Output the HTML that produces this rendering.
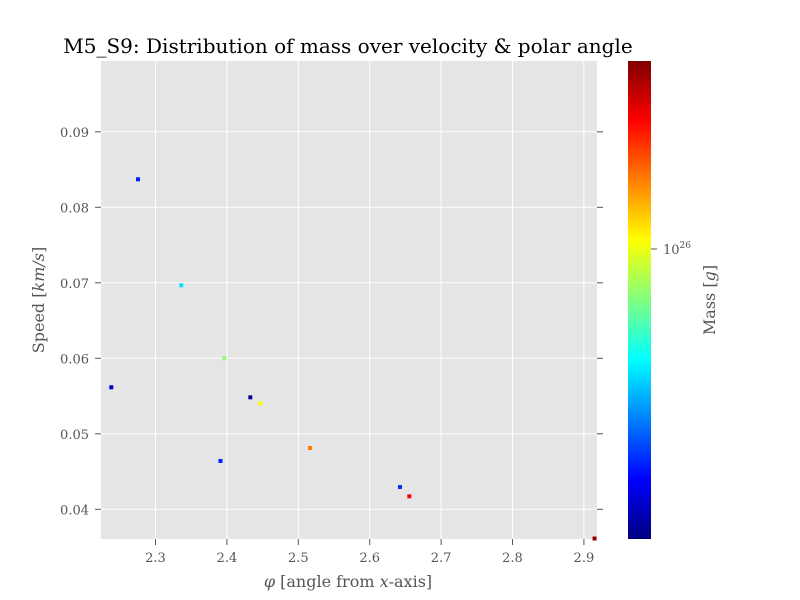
<!DOCTYPE html>
<html><head><meta charset="utf-8"><style>
body{margin:0;background:#fff;}
svg{display:block;font-family:"DejaVu Serif","Liberation Serif",serif;}
</style></head><body>
<svg id="chart" width="800" height="600" xmlns="http://www.w3.org/2000/svg">
<defs>
<linearGradient id="jet" x1="0" y1="1" x2="0" y2="0">
<stop offset="0" stop-color="#00007f"/><stop offset="0.125" stop-color="#0000ff"/>
<stop offset="0.375" stop-color="#00ffff"/><stop offset="0.625" stop-color="#ffff00"/>
<stop offset="0.875" stop-color="#ff0000"/><stop offset="1" stop-color="#7f0000"/>
</linearGradient>
</defs>
<rect x="101" y="61" width="496" height="478" fill="#e5e5e5"/>
<g id="grid"></g><g id="ticks"></g><g id="points"></g>
<text x="348" y="53" text-anchor="middle" font-size="20" fill="#000">M5_S9: Distribution of mass over velocity &amp; polar angle</text>
<text x="348" y="587" text-anchor="middle" font-size="16" fill="#555"><tspan font-style="italic">φ</tspan> [angle from <tspan font-style="italic">x</tspan>-axis]</text>
<text transform="translate(44,300) rotate(-90)" text-anchor="middle" font-size="16" fill="#555">Speed [<tspan font-style="italic">km/s</tspan>]</text>
<rect x="628" y="61" width="23" height="478" fill="url(#jet)"/>
<line x1="651" y1="249" x2="657" y2="249" stroke="#555"/>
<text x="663" y="254" font-size="13" fill="#555">10<tspan dy="-6" font-size="9">26</tspan></text>
<text transform="translate(715,300) rotate(-90)" text-anchor="middle" font-size="16" fill="#555">Mass [<tspan font-style="italic">g</tspan>]</text>
</svg>
<script>
const xTicks=[2.3,2.4,2.5,2.6,2.7,2.8,2.9];
const yTicks=[0.04,0.05,0.06,0.07,0.08,0.09];
const phiValues=[2.2755,2.3361,2.3964,2.2381,2.4328,2.4468,2.391,2.5164,2.6424,2.6555,2.9149];
const speedValues=[0.08371,0.06967,0.06,0.05616,0.05483,0.05404,0.0464,0.04812,0.04295,0.04172,0.03613];
const logMassValues=[25.25,25.58,25.85,25.13,25.05,26.04,25.26,26.25,25.28,26.45,26.62];
const massLo=25.0, massHi=26.65;
const NS="http://www.w3.org/2000/svg";
const X=v=>155.5+(v-2.3)*714;
const Y=v=>358.3-(v-0.06)*7550;
function jet(t){t=Math.max(0,Math.min(1,t));
 const r=Math.max(0,Math.min(1,1.5-Math.abs(4*t-3))),g=Math.max(0,Math.min(1,1.5-Math.abs(4*t-2))),b=Math.max(0,Math.min(1,1.5-Math.abs(4*t-1)));
 return `rgb(${Math.round(r*255)},${Math.round(g*255)},${Math.round(b*255)})`;}
function mk(tag,attrs,parent){const e=document.createElementNS(NS,tag);for(const k in attrs)e.setAttribute(k,attrs[k]);parent.appendChild(e);return e;}
const grid=document.getElementById('grid'),ticks=document.getElementById('ticks'),pts=document.getElementById('points');
xTicks.forEach(t=>{const x=X(t);
 const g=mk('line',{x1:x,y1:61,x2:x,y2:539,stroke:'#fff','stroke-width':1},grid);
 
 
 const tk=mk('line',{x1:x,y1:539,x2:x,y2:545,stroke:'#555'},ticks);
 
 
 const l=mk('text',{x:x,y:562,'text-anchor':'middle','font-size':13,fill:'#555'},ticks);l.textContent=t.toFixed(1);
 
 
});
yTicks.forEach(t=>{const y=Y(t);
 const g=mk('line',{x1:101,y1:y,x2:597,y2:y,stroke:'#fff','stroke-width':1},grid);
 
 
 const tk=mk('line',{x1:95,y1:y,x2:101,y2:y,stroke:'#555'},ticks);
 
 
 const tk2=mk('line',{x1:597,y1:y,x2:603,y2:y,stroke:'#555'},ticks);
 
 
 const l=mk('text',{x:89,y:y+5,'text-anchor':'end','font-size':13,fill:'#555'},ticks);l.textContent=t.toFixed(2);
 
 
});
phiValues.forEach((p,i)=>{
 const r=mk('rect',{x:X(p)-2,y:Y(speedValues[i])-2,width:4,height:4,fill:jet((logMassValues[i]-massLo)/(massHi-massLo))},pts);
 
 
});
</script>
</body></html>
